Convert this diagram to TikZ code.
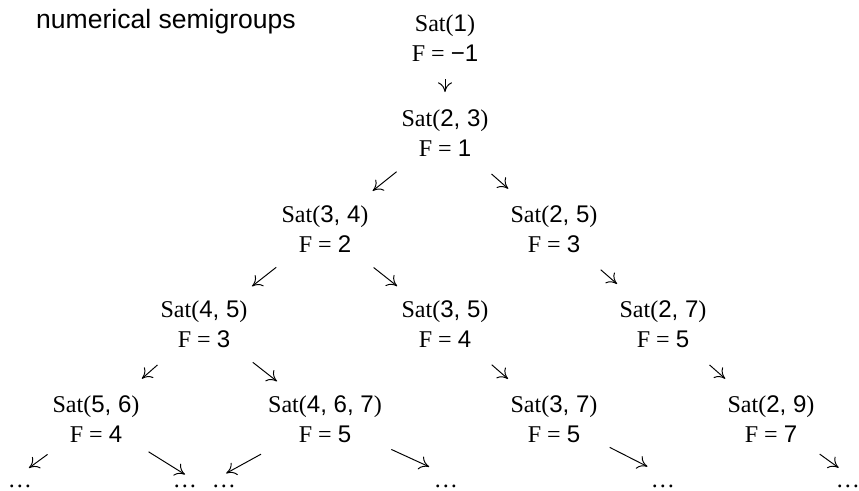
\documentclass[tikz,border=0pt]{standalone}
\usepackage{fontspec}
\setmainfont{Liberation Serif}
\setsansfont{Liberation Sans}
\usetikzlibrary{arrows.meta}
\newcommand{\sat}[1]{Sat(\textsf{#1})}
\newcommand{\frob}[1]{F = \textsf{#1}}

\begin{document}
\begin{tikzpicture}[
    sg/.style={align=center, inner sep=0pt, font=\fontsize{13.7}{17.2}\selectfont},
    more/.style={inner sep=0pt, outer sep=0.2cm, anchor=base, font=\fontsize{13.7}{17.2}\selectfont},
    edge/.style={-{To[length=5.5pt,width=8pt]}, line width=0.55pt,
        shorten <=1.24cm, shorten >=1.22cm}]
    \useasboundingbox (0,0) rectangle (17.18,-9.8);

    \node[anchor=base east, font=\fontsize{15.1}{18}\sffamily\selectfont] (title)
        at (6.04,-0.56) {numerical semigroups};

    % the tree
    \node[sg] (n1) at (8.90,-0.76) {\sat{1}\\\frob{−1}};
    \node[sg] (n23) at (8.90,-2.66) {\sat{2, 3}\\\frob{1}};
    \node[sg] (n34) at (6.50,-4.58) {\sat{3, 4}\\\frob{2}};
    \node[sg] (n25) at (11.08,-4.58) {\sat{2, 5}\\\frob{3}};
    \node[sg] (n45) at (4.08,-6.48) {\sat{4, 5}\\\frob{3}};
    \node[sg] (n35) at (8.90,-6.48) {\sat{3, 5}\\\frob{4}};
    \node[sg] (n27) at (13.26,-6.48) {\sat{2, 7}\\\frob{5}};
    \node[sg] (n56) at (1.92,-8.38) {\sat{5, 6}\\\frob{4}};
    \node[sg] (n467) at (6.50,-8.38) {\sat{4, 6, 7}\\\frob{5}};
    \node[sg] (n37) at (11.08,-8.38) {\sat{3, 7}\\\frob{5}};
    \node[sg] (n29) at (15.42,-8.38) {\sat{2, 9}\\\frob{7}};

    \node[more] (d1) at (0.40,-9.74) {\dots};
    \node[more] (d2) at (3.70,-9.74) {\dots};
    \node[more] (d3) at (4.48,-9.74) {\dots};
    \node[more] (d4) at (8.92,-9.74) {\dots};
    \node[more] (d5) at (13.26,-9.74) {\dots};
    \node[more] (d6) at (16.96,-9.74) {\dots};

    \draw[edge, shorten <=0.82cm, shorten >=0.82cm] (n1.center) -- (n23.center);
    \draw[edge] (n23.center) -- (n34.center);
    \draw[edge] (n23.center) -- (n25.center);
    \draw[edge] (n34.center) -- (n45.center);
    \draw[edge] (n34.center) -- (n35.center);
    \draw[edge] (n25.center) -- (n27.center);
    \draw[edge] (n45.center) -- (n56.center);
    \draw[edge] (n45.center) -- (n467.center);
    \draw[edge] (n35.center) -- (n37.center);
    \draw[edge] (n27.center) -- (n29.center);

    \draw[edge, shorten <=1.20cm, shorten >=0.22cm] (n56.center) -- (d1.north);
    \draw[edge, shorten <=1.24cm, shorten >=0cm] (n56.center) -- (d2.north);
    \draw[edge, shorten <=1.46cm, shorten >=0.05cm] (n467.center) -- (d3.north);
    \draw[edge, shorten <=1.46cm, shorten >=0.37cm] (n467.center) -- (d4.north);
    \draw[edge, shorten <=1.25cm, shorten >=0.35cm] (n37.center) -- (d5.north);
    \draw[edge, shorten <=1.20cm, shorten >=0.23cm] (n29.center) -- (d6.north);
\end{tikzpicture}
\end{document}
